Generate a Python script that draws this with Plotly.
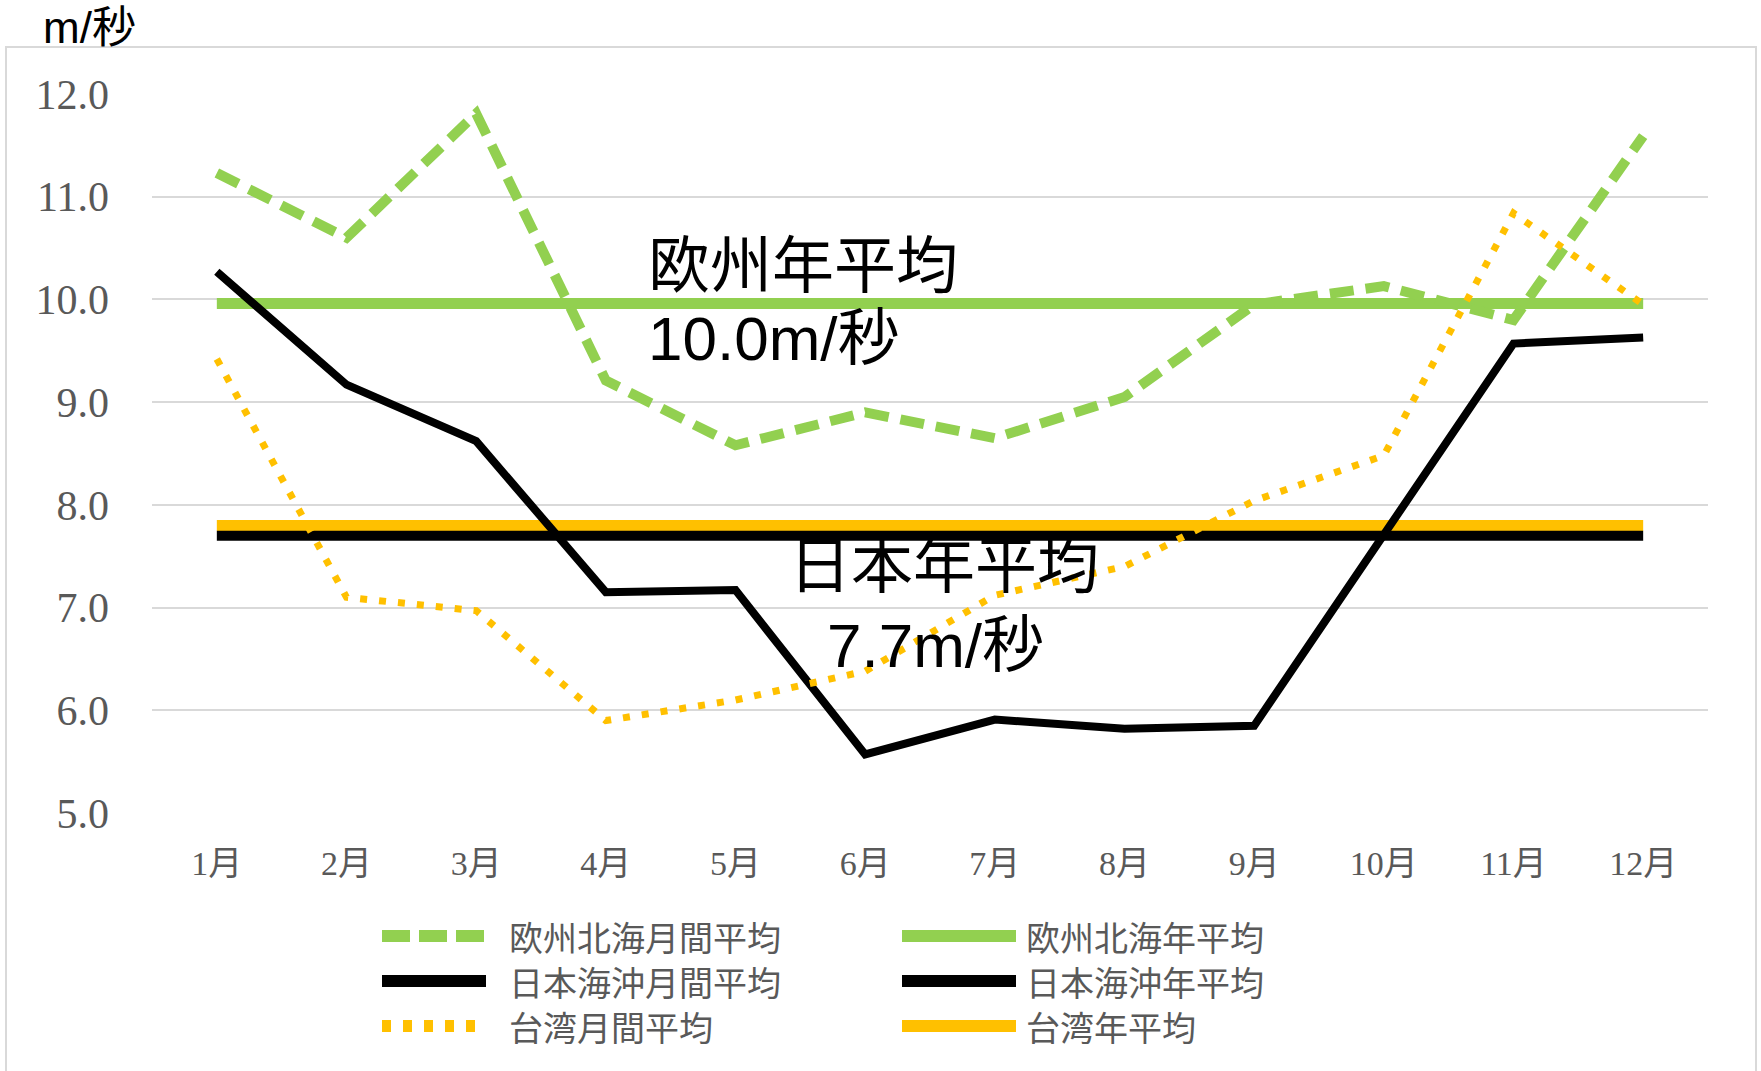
import plotly.graph_objects as go

# ---------------- data ----------------
months = ['1月', '2月', '3月', '4月', '5月', '6月', '7月', '8月', '9月', '10月', '11月', '12月']
eu_monthly = [11.23, 10.60, 11.81, 9.21, 8.58, 8.90, 8.65, 9.05, 9.95, 10.13, 9.80, 11.59]
jp_monthly = [10.27, 9.17, 8.62, 7.15, 7.17, 5.57, 5.91, 5.82, 5.85, 7.72, 9.57, 9.63]
tw_monthly = [9.42, 7.10, 6.97, 5.90, 6.10, 6.38, 7.12, 7.40, 8.04, 8.48, 10.84, 9.95]
eu_annual = 9.96
jp_annual = 7.70
tw_annual = 7.80
y_ticks = [5.0, 6.0, 7.0, 8.0, 9.0, 10.0, 11.0, 12.0]
series_names = ['欧州北海月間平均', '欧州北海年平均', '日本海沖月間平均',
                '日本海沖年平均', '台湾月間平均', '台湾年平均']

GREEN = '#92D050'
BLACK = '#000000'
ORANGE = '#FFC000'
GRAY = '#595959'

fig = go.Figure()
x = list(range(len(months)))

# annual averages (drawn first, below monthly lines)
fig.add_trace(go.Scatter(x=x, y=[eu_annual] * len(months), mode='lines',
                         name=series_names[1], line=dict(color=GREEN, width=11)))
fig.add_trace(go.Scatter(x=x, y=[tw_annual] * len(months), mode='lines',
                         name=series_names[5], line=dict(color=ORANGE, width=11)))
fig.add_trace(go.Scatter(x=x, y=[jp_annual] * len(months), mode='lines',
                         name=series_names[3], line=dict(color=BLACK, width=10)))
# monthly averages
fig.add_trace(go.Scatter(x=x, y=jp_monthly, mode='lines', name=series_names[2],
                         line=dict(color=BLACK, width=8)))
fig.add_trace(go.Scatter(x=x, y=eu_monthly, mode='lines', name=series_names[0],
                         line=dict(color=GREEN, width=10, dash='24px,12px')))
fig.add_trace(go.Scatter(x=x, y=tw_monthly, mode='lines', name=series_names[4],
                         line=dict(color=ORANGE, width=7, dash='7px,12px')))

# ---------------- layout ----------------
L, R, T, B = 152, 1708, 94, 813
W, H = 1761, 1071


def px_x(p):
    return (p - L) / (R - L)


def px_y(p):
    return (B - p) / (B - T)


shapes = []
annotations = []

# chart-area border
shapes.append(dict(type='rect', xref='paper', yref='paper',
                   x0=px_x(6), x1=px_x(1756), y0=px_y(1090), y1=px_y(47),
                   line=dict(color='#D9D9D9', width=2), fillcolor='rgba(0,0,0,0)',
                   layer='below'))

# manual legend (long line samples as in the original)
legend_rows = [936, 981, 1026]
col1 = (382, 486, 508)
col2 = (902, 1016, 1025)
legend_styles = [
    (col1, 0, series_names[0], dict(color=GREEN, width=12, dash='28px,9px')),
    (col2, 0, series_names[1], dict(color=GREEN, width=12)),
    (col1, 1, series_names[2], dict(color=BLACK, width=12)),
    (col2, 1, series_names[3], dict(color=BLACK, width=12)),
    (col1, 2, series_names[4], dict(color=ORANGE, width=12, dash='9px,12px')),
    (col2, 2, series_names[5], dict(color=ORANGE, width=12)),
]
for (c, r, name, ln) in legend_styles:
    yy = px_y(legend_rows[r])
    shapes.append(dict(type='line', xref='paper', yref='paper',
                       x0=px_x(c[0]), x1=px_x(c[1]), y0=yy, y1=yy, line=ln, layer='above'))
    annotations.append(dict(xref='paper', yref='paper', x=px_x(c[2]), y=yy,
                            xanchor='left', yanchor='middle', showarrow=False, text=name,
                            borderpad=0,
                            font=dict(family='Noto Sans CJK JP', size=34, color=GRAY)))

big_font = dict(family='Liberation Sans, Noto Sans CJK JP', size=62, color='black')
annotations += [
    dict(xref='paper', yref='paper', x=px_x(41), y=px_y(28), xanchor='left', yanchor='middle',
         showarrow=False, text='m/秒',
         font=dict(family='Liberation Sans, Noto Sans CJK JP', size=44, color='black')),
    dict(xref='paper', yref='paper', x=px_x(646), y=px_y(266), xanchor='left', yanchor='middle',
         showarrow=False, text='欧州年平均', font=big_font),
    dict(xref='paper', yref='paper', x=px_x(646), y=px_y(338), xanchor='left', yanchor='middle',
         showarrow=False, text='10.0m/秒', font=big_font),
    dict(xref='paper', yref='paper', x=px_x(944), y=px_y(566), xanchor='center', yanchor='middle',
         showarrow=False, text='日本年平均', font=big_font),
    dict(xref='paper', yref='paper', x=px_x(935), y=px_y(645), xanchor='center', yanchor='middle',
         showarrow=False, text='7.7m/秒', font=big_font),
]

fig.update_layout(
    width=W, height=H,
    margin=dict(l=L, r=W - R, t=T, b=H - B, pad=0),
    paper_bgcolor='white', plot_bgcolor='white',
    showlegend=False,
    shapes=shapes,
    annotations=annotations,
    xaxis=dict(
        tickmode='array', tickvals=x, ticktext=months,
        range=[-0.5, 11.5], showgrid=False, zeroline=False, showline=False,
        ticks='', ticklabelstandoff=27,
        tickfont=dict(family='Liberation Serif, Noto Sans CJK JP', size=34, color=GRAY),
    ),
    yaxis=dict(
        range=[5.0, 12.0], tickmode='array', tickvals=y_ticks,
        ticktext=[f'{v:.1f}' for v in y_ticks],
        showgrid=True, gridcolor='#D9D9D9', gridwidth=2, zeroline=False, showline=False,
        ticks='', ticklabelstandoff=42,
        tickfont=dict(family='Liberation Serif', size=42, color=GRAY),
    ),
)

fig.write_html('out.html')
